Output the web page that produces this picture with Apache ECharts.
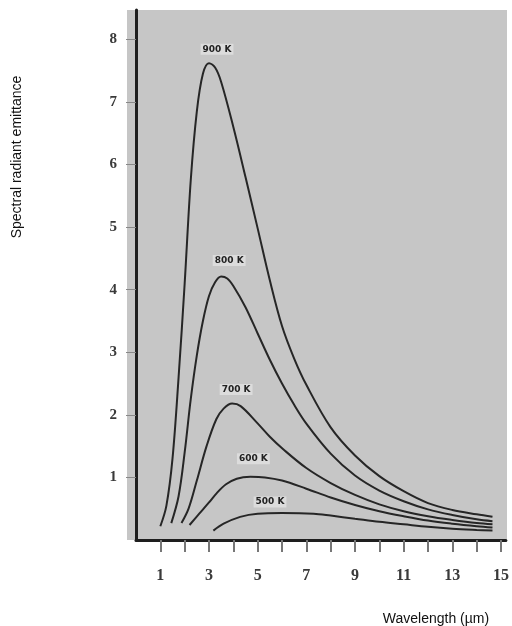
<!DOCTYPE html>
<html>
<head>
<meta charset="utf-8">
<script src="https://cdn.jsdelivr.net/npm/echarts@6/dist/echarts.min.js"></script>
<style>html,body{margin:0;padding:0;background:#fff}#c{width:512px;height:626px}</style>
</head>
<body>
<div id="c"></div>
<script>
// Temperatures (curve labels)
var curveNames = ['900 K', '800 K', '700 K', '600 K', '500 K'];

// 900 K curve
var wl900 = [1.0, 1.25, 1.5, 1.75, 2.0, 2.25, 2.5, 2.75, 3.0, 3.25, 3.5, 4.0, 4.5, 5.0, 5.5, 6.0, 6.5, 7.0, 8.0, 9.0, 10.0, 11.0, 12.0, 13.0, 14.0, 14.65];
var em900 = [0.22, 0.55, 1.3, 2.6, 4.1, 5.75, 6.85, 7.45, 7.62, 7.55, 7.32, 6.6, 5.8, 4.98, 4.15, 3.42, 2.9, 2.48, 1.8, 1.35, 1.02, 0.78, 0.59, 0.48, 0.41, 0.37];

// 800 K curve
var wl800 = [1.45, 1.75, 2.0, 2.25, 2.5, 2.75, 3.0, 3.25, 3.5, 3.75, 4.0, 4.5, 5.0, 5.5, 6.0, 6.5, 7.0, 8.0, 9.0, 10.0, 11.0, 12.0, 13.0, 14.0, 14.65];
var em800 = [0.27, 0.7, 1.4, 2.25, 2.95, 3.5, 3.9, 4.12, 4.21, 4.18, 4.06, 3.72, 3.3, 2.88, 2.5, 2.16, 1.86, 1.38, 1.03, 0.79, 0.62, 0.49, 0.40, 0.33, 0.30];

// 700 K curve
var wl700 = [1.87, 2.16, 2.5, 2.9, 3.3, 3.6, 3.95, 4.3, 4.96, 5.5, 6.05, 7.0, 8.0, 9.0, 10.0, 11.0, 12.0, 13.0, 14.0, 14.65];
var em700 = [0.27, 0.5, 0.95, 1.5, 1.93, 2.1, 2.18, 2.14, 1.88, 1.65, 1.45, 1.15, 0.91, 0.72, 0.57, 0.46, 0.38, 0.32, 0.27, 0.25];

// 600 K curve
var wl600 = [2.2, 2.6, 3.0, 3.32, 3.7, 4.14, 4.7, 5.3, 6.0, 7.0, 8.0, 9.0, 10.0, 11.0, 12.0, 13.0, 14.0, 14.65];
var em600 = [0.24, 0.42, 0.6, 0.75, 0.89, 0.98, 1.01, 1.0, 0.95, 0.82, 0.68, 0.56, 0.46, 0.38, 0.31, 0.26, 0.22, 0.20];

// 500 K curve
var wl500 = [3.18, 3.6, 4.28, 5.0, 6.0, 7.3, 8.0, 9.0, 10.0, 11.0, 12.0, 13.0, 14.0, 14.65];
var em500 = [0.15, 0.26, 0.37, 0.42, 0.43, 0.42, 0.39, 0.34, 0.29, 0.25, 0.21, 0.18, 0.16, 0.15];

// Axis tick values / labels
var xTickValues = [1, 2, 3, 4, 5, 6, 7, 8, 9, 10, 11, 12, 13, 14, 15];
var xLabelValues = [1, 3, 5, 7, 9, 11, 13, 15];
var yTickValues = [1, 2, 3, 4, 5, 6, 7, 8];

var yTitle = 'Spectral radiant emittance';
var xTitle = 'Wavelength (\u00b5m)';

var curves = [
  {name: curveNames[0], x: wl900, y: em900, off: [8, -2]},
  {name: curveNames[1], x: wl800, y: em800, off: [8, -4]},
  {name: curveNames[2], x: wl700, y: em700, off: [4, -2]},
  {name: curveNames[3], x: wl600, y: em600, off: [3, -6]},
  {name: curveNames[4], x: wl500, y: em500, off: [-12, 1]}
];

var series = curves.map(function (c) {
  var data = c.x.map(function (xv, i) { return [xv, c.y[i]]; });
  return {
    type: 'line', name: c.name, data: data, smooth: 0.35,
    showSymbol: false, symbol: 'none', silent: true,
    lineStyle: {color: '#262626', width: 2},
    z: 3,
    markPoint: {
      silent: true,
      symbol: 'rect', symbolSize: [1, 1],
      itemStyle: {color: 'rgba(0,0,0,0)'},
      data: [{type: 'max', valueDim: 'y', name: c.name}],
      label: {
        show: true, position: 'top', distance: 6, offset: c.off,
        formatter: c.name,
        fontSize: 9, fontWeight: 'bold', color: '#222',
        fontFamily: 'DejaVu Sans',
        backgroundColor: 'rgba(225,225,225,0.8)', padding: [1, 2]
      }
    }
  };
});

var chart = echarts.init(document.getElementById('c'), null, {renderer: 'canvas'});
chart.setOption({
  animation: false,
  backgroundColor: '#ffffff',
  grid: {left: 136, right: 5, top: 10, bottom: 86, show: false},
  graphic: [
    {type: 'rect', shape: {x: 127, y: 10, width: 380, height: 530}, style: {fill: '#c6c6c6'}, z: -10, silent: true},
    {type: 'text', x: 17, y: 157, rotation: Math.PI / 2, style: {text: yTitle, font: '14px "Liberation Sans", Arial, sans-serif', fill: '#111', textAlign: 'center', textVerticalAlign: 'middle'}},
    {type: 'text', x: 436, y: 619, style: {text: xTitle, font: '14px "Liberation Sans", Arial, sans-serif', fill: '#111', textAlign: 'center', textVerticalAlign: 'middle'}}
  ],
  xAxis: {
    type: 'value', min: 0, max: 15.2,
    axisLine: {show: true, lineStyle: {color: '#1e1e1e', width: 3}},
    axisTick: {show: true, length: 12, customValues: xTickValues, lineStyle: {color: '#777', width: 2}},
    axisLabel: {customValues: xLabelValues, margin: 28, fontSize: 16, fontWeight: 'bold', color: '#3a3a3a', fontFamily: '"Liberation Serif", serif'},
    splitLine: {show: false}
  },
  yAxis: {
    type: 'value', min: 0, max: 8.47, offset: 3,
    axisLine: {show: true, lineStyle: {color: '#1e1e1e', width: 3}},
    axisTick: {show: true, length: 10, customValues: yTickValues, lineStyle: {color: '#888', width: 1}},
    axisLabel: {customValues: yTickValues, margin: 16, fontSize: 15, fontWeight: 'bold', color: '#3a3a3a', fontFamily: '"Liberation Serif", serif'},
    splitLine: {show: false}
  },
  series: series
});
</script>
</body>
</html>
